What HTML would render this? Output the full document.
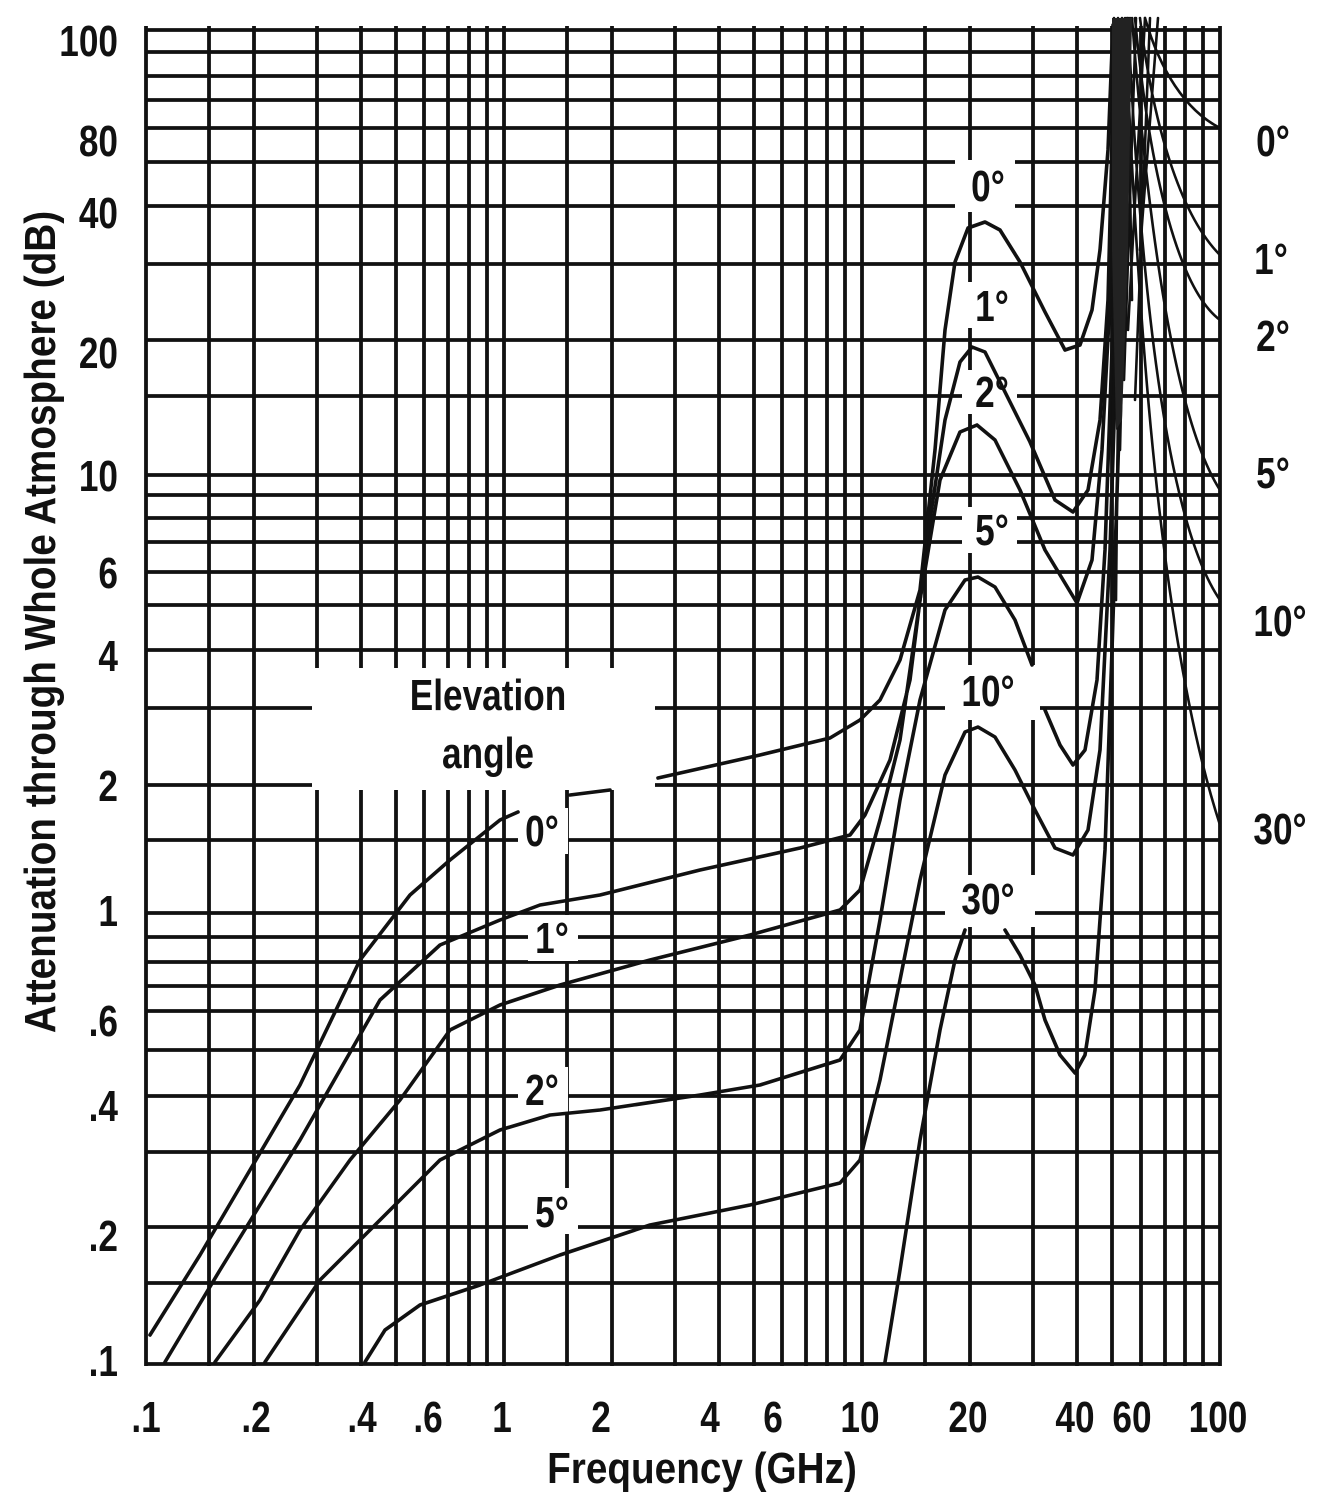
<!DOCTYPE html>
<html><head><meta charset="utf-8"><style>
html,body{margin:0;padding:0;background:#fff;}
svg{display:block;}
text{font-family:"Liberation Sans Narrow","Liberation Sans",sans-serif;font-weight:bold;fill:#111;}
</style></head><body>
<svg width="1326" height="1509" viewBox="0 0 1326 1509" xmlns="http://www.w3.org/2000/svg">
<rect width="1326" height="1509" fill="#fff"/>
<g stroke="#111" stroke-width="3.8" fill="none">
<path d="M146 26V1366M209 26V1366M254 26V1366M317 26V1366M361 26V1366M396 26V1366M424 26V1366M448 26V1366M469 26V1366M487 26V1366M504 26V1366
M567 26V1366M612 26V1366M675 26V1366M719 26V1366M754 26V1366M782 26V1366M806 26V1366M827 26V1366M845 26V1366M862 26V1366
M925 26V1366M970 26V1366M1033 26V1366M1077 26V1366M1112 26V1366M1141 26V1366M1165 26V1366M1185 26V1366M1203 26V1366M1220 26V1366"/>
<path d="M146 30H1220M146 52H1220M146 76H1220M146 100H1220M146 128H1220M146 162H1220M146 206H1220M146 264H1220M146 340H1220M146 396H1220
M146 475H1220M146 495H1220M146 518H1220M146 542H1220M146 572H1220M146 605H1220M146 650H1220M146 708H1220M146 785H1220M146 840H1220
M146 913H1220M146 937H1220M146 962H1220M146 986H1220M146 1011H1220M146 1050H1220M146 1096H1220M146 1152H1220M146 1227H1220M146 1283H1220
M146 1364H1220" />
</g>
<g fill="#fff">
<rect x="312" y="668" width="343" height="122"/>
<rect x="518" y="808" width="50" height="46"/>
<rect x="528" y="915" width="50" height="46"/>
<rect x="518" y="1067" width="50" height="46"/>
<rect x="528" y="1188" width="50" height="46"/>
<rect x="955" y="160" width="60" height="52"/>
<rect x="962" y="282" width="55" height="46"/>
<rect x="962" y="370" width="55" height="44"/>
<rect x="962" y="507" width="55" height="46"/>
<rect x="945" y="665" width="95" height="55"/>
<rect x="945" y="875" width="90" height="52"/>
</g>
<g stroke="#111" stroke-width="3.6" fill="none" stroke-linejoin="round" stroke-linecap="round">
<polyline points="150,1335 200,1255 250,1170 300,1085 360,960 410,895 450,860 500,820 518,812"/>
<polyline points="570,795 610,790"/>
<polyline points="658,778 760,755 830,738 860,720 880,700 900,660 920,590 935,450 945,330 955,262 968,228 985,222 1000,230 1020,262 1045,312 1065,350 1080,345 1092,310 1100,250 1108,150 1113,25"/>
<polyline points="165,1362 220,1270 300,1140 380,1000 440,945 500,920 540,905 600,895 700,870 800,848 850,835 865,815 890,760 910,680 930,520 945,420 960,362 972,347 985,352 1000,382 1030,442 1055,500 1073,512 1088,490 1100,420 1108,300 1115,25"/>
<polyline points="215,1362 260,1300 300,1230 350,1160 400,1100 450,1030 500,1005 560,985 650,960 750,935 840,910 860,890 880,820 900,740 920,600 940,480 960,432 977,425 995,440 1020,490 1045,550 1077,603 1092,560 1102,450 1110,300 1118,25"/>
<polyline points="265,1362 320,1280 380,1220 440,1160 500,1130 550,1115 600,1110 700,1095 760,1085 840,1060 860,1030 880,920 900,800 920,700 945,610 965,580 978,577 995,587 1015,620 1032,665"/>
<polyline points="1045,710 1060,745 1073,765 1085,750 1097,680 1105,550 1112,350 1120,25"/>
<polyline points="365,1362 385,1330 420,1305 480,1285 560,1255 650,1225 750,1205 840,1183 860,1160 880,1080 900,980 920,880 945,775 965,732 978,727 995,737 1015,770 1035,810 1055,848 1073,855 1088,830 1100,750 1110,550 1118,300 1123,25"/>
<polyline points="885,1362 900,1270 920,1140 940,1030 955,960 965,930"/>
<polyline points="1005,930 1020,955 1035,985 1045,1020 1060,1055 1075,1073 1085,1055 1095,990 1105,850 1112,650 1120,400 1128,25"/>
</g>
<g stroke="#111" stroke-width="2.6" fill="none" stroke-linecap="round">
<path d="M1145 18 C1160 70 1185 110 1220 128"/>
<path d="M1140 18 C1155 140 1185 220 1220 255"/>
<path d="M1135 18 C1150 180 1180 290 1220 320"/>
<path d="M1132 18 C1148 230 1175 420 1220 490"/>
<path d="M1128 18 C1140 280 1165 520 1220 600"/>
<path d="M1125 18 C1138 330 1160 640 1220 825"/>
<path d="M1150 18 L1135 400 M1158 18 L1140 250 M1118 18 L1112 500 M1122 18 L1116 600 M1130 18 L1120 450 M1136 18 L1124 380 M1145 18 L1128 330 M1114 18 L1118 420 M1127 18 L1132 300"/>
</g>
<polygon points="1112,18 1132,18 1128,250 1122,420 1116,430 1112,250" fill="#222"/>
<g font-size="44" text-anchor="end">
<text transform="translate(118,56) scale(0.8,1)">100</text>
<text transform="translate(118,156) scale(0.8,1)">80</text>
<text transform="translate(118,228) scale(0.8,1)">40</text>
<text transform="translate(118,368) scale(0.8,1)">20</text>
<text transform="translate(118,491) scale(0.8,1)">10</text>
<text transform="translate(118,588) scale(0.8,1)">6</text>
<text transform="translate(118,671) scale(0.8,1)">4</text>
<text transform="translate(118,801) scale(0.8,1)">2</text>
<text transform="translate(118,926) scale(0.8,1)">1</text>
<text transform="translate(118,1036) scale(0.8,1)">.6</text>
<text transform="translate(118,1121) scale(0.8,1)">.4</text>
<text transform="translate(118,1251) scale(0.8,1)">.2</text>
<text transform="translate(118,1376) scale(0.8,1)">.1</text>
</g>
<g font-size="44" text-anchor="middle">
<text transform="translate(146,1432) scale(0.8,1)">.1</text>
<text transform="translate(256,1432) scale(0.8,1)">.2</text>
<text transform="translate(362,1432) scale(0.8,1)">.4</text>
<text transform="translate(428,1432) scale(0.8,1)">.6</text>
<text transform="translate(502,1432) scale(0.8,1)">1</text>
<text transform="translate(601,1432) scale(0.8,1)">2</text>
<text transform="translate(710,1432) scale(0.8,1)">4</text>
<text transform="translate(773,1432) scale(0.8,1)">6</text>
<text transform="translate(860,1432) scale(0.8,1)">10</text>
<text transform="translate(968,1432) scale(0.8,1)">20</text>
<text transform="translate(1075,1432) scale(0.8,1)">40</text>
<text transform="translate(1132,1432) scale(0.8,1)">60</text>
<text transform="translate(1218,1432) scale(0.8,1)">100</text>
<text transform="translate(702,1483) scale(0.88,1)">Frequency (GHz)</text>
<text transform="translate(55,622) rotate(-90) scale(0.88,1)">Attenuation through Whole Atmosphere (dB)</text>
<text transform="translate(488,710) scale(0.8,1)">Elevation</text>
<text transform="translate(488,768) scale(0.8,1)">angle</text>
<text transform="translate(542,846) scale(0.8,1)">0°</text>
<text transform="translate(552,953) scale(0.8,1)">1°</text>
<text transform="translate(542,1105) scale(0.8,1)">2°</text>
<text transform="translate(552,1227) scale(0.8,1)">5°</text>
<text transform="translate(988,201) scale(0.8,1)">0°</text>
<text transform="translate(992,321) scale(0.8,1)">1°</text>
<text transform="translate(992,407) scale(0.8,1)">2°</text>
<text transform="translate(992,545) scale(0.8,1)">5°</text>
<text transform="translate(988,706) scale(0.8,1)">10°</text>
<text transform="translate(988,914) scale(0.8,1)">30°</text>
<text transform="translate(1273,156) scale(0.8,1)">0°</text>
<text transform="translate(1271,274) scale(0.8,1)">1°</text>
<text transform="translate(1273,351) scale(0.8,1)">2°</text>
<text transform="translate(1273,488) scale(0.8,1)">5°</text>
<text transform="translate(1280,636) scale(0.8,1)">10°</text>
<text transform="translate(1280,844) scale(0.8,1)">30°</text>
</g>
</svg>
</body></html>
